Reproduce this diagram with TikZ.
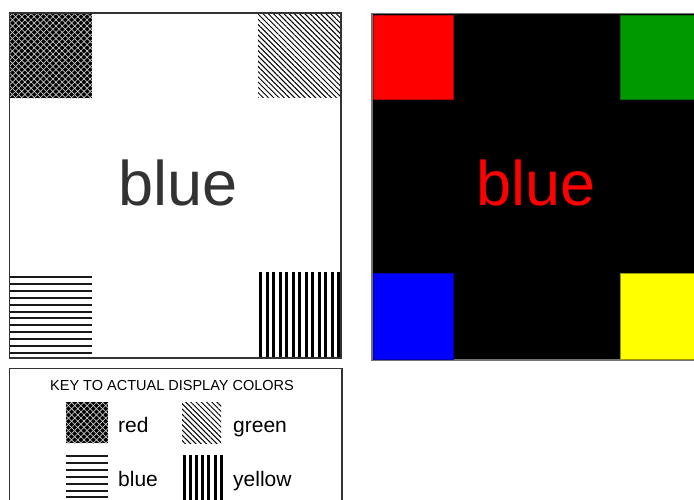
\documentclass[tikz,border=0pt]{standalone}
\usepackage{fontspec}
\setmainfont{Liberation Sans}
\usepackage{xcolor}
\usepackage{tikz}
\usetikzlibrary{patterns.meta}
\definecolor{dispred}{RGB}{255,0,0}
\definecolor{dispgreen}{RGB}{0,153,0}
\definecolor{dispblue}{RGB}{0,0,255}
\definecolor{dispyellow}{RGB}{255,255,0}
\tikzset{
  panel/.style={draw=black!80, line width=1.3pt},
  screen/.style={draw=black!55, fill=black, line width=1.3pt},
  swatch/.style={line width=0.6pt},
  hatchred/.style={fill=black,
    postaction={pattern={Lines[angle=45, distance=4.4pt, line width=0.7pt]},
      pattern color=white!80!black},
    postaction={pattern={Lines[angle=-45, distance=4.4pt, line width=0.7pt]},
      pattern color=white!80!black}},
  hatchgreen/.style={pattern={Lines[angle=-45, distance=3.7pt, line width=1pt]},
    pattern color=black},
  hstripe/.style={draw=black!90, line width=2pt},
  vstripe/.style={draw=black, line width=3pt},
  bigword/.style={font=\fontsize{63}{64}\selectfont, anchor=base, inner sep=0pt},
  keytitle/.style={font=\fontsize{14.5}{15}\selectfont, anchor=base, inner sep=0pt},
  keyword/.style={font=\fontsize{21}{22}\selectfont, anchor=base west, inner sep=0pt}
}

\begin{document}
\begin{tikzpicture}[x=1pt, y=-1pt]
  \useasboundingbox (0,0) rectangle (694,499);
  \clip (0,0) rectangle (694,499);

  % Left panel: the colours shown as fill patterns.
  \fill[hatchred] (10,13) rectangle (92,98);
  \fill[hatchgreen] (258,13) rectangle (341,97);
  \foreach \k in {0,...,11}
    \draw[hstripe] (10,277+6.9*\k) -- (92,277+6.9*\k);
  \foreach \k in {0,...,12}
    \draw[vstripe] (260.7+6.52*\k,272) -- (260.7+6.52*\k,358);
  \draw[panel] (9.5,13) rectangle (341,358);
  \node[bigword, text=black!80] (leftword) at (178.5,205) {blue};

  % Right panel: the colours as actually displayed.
  \draw[screen] (372,13.5) rectangle (702,360);
  \filldraw[fill=dispred, draw=dispred!70!black, swatch] (373,15) rectangle (453,99);
  \filldraw[fill=dispgreen, draw=dispgreen!70!black, swatch] (620,15) rectangle (702,99);
  \filldraw[fill=dispblue, draw=dispblue!70!black, swatch] (373,273) rectangle (453,359);
  \filldraw[fill=dispyellow, draw=dispyellow!60!black, swatch] (620,273) rectangle (702,359);
  \node[bigword, text=dispred] (rightword) at (536,205) {blue};

  % Key box.
  \draw[panel] (9.5,368.5) rectangle (342,520);
  \node[keytitle] (keyhead) at (172,390) {KEY TO ACTUAL DISPLAY COLORS};
  \fill[hatchred] (66,402) rectangle (108,443);
  \fill[hatchgreen] (182,402) rectangle (221,443);
  \foreach \k in {0,...,6}
    \draw[hstripe] (66,456+6.9*\k) -- (108,456+6.9*\k);
  \foreach \k in {0,...,6}
    \draw[vstripe] (184+6.2*\k,455) -- (184+6.2*\k,505);
  \node[keyword] (keyred) at (118,432) {red};
  \node[keyword] (keygreen) at (233,432) {green};
  \node[keyword] (keyblue) at (118,486) {blue};
  \node[keyword] (keyyellow) at (233,486) {yellow};
\end{tikzpicture}
\end{document}
